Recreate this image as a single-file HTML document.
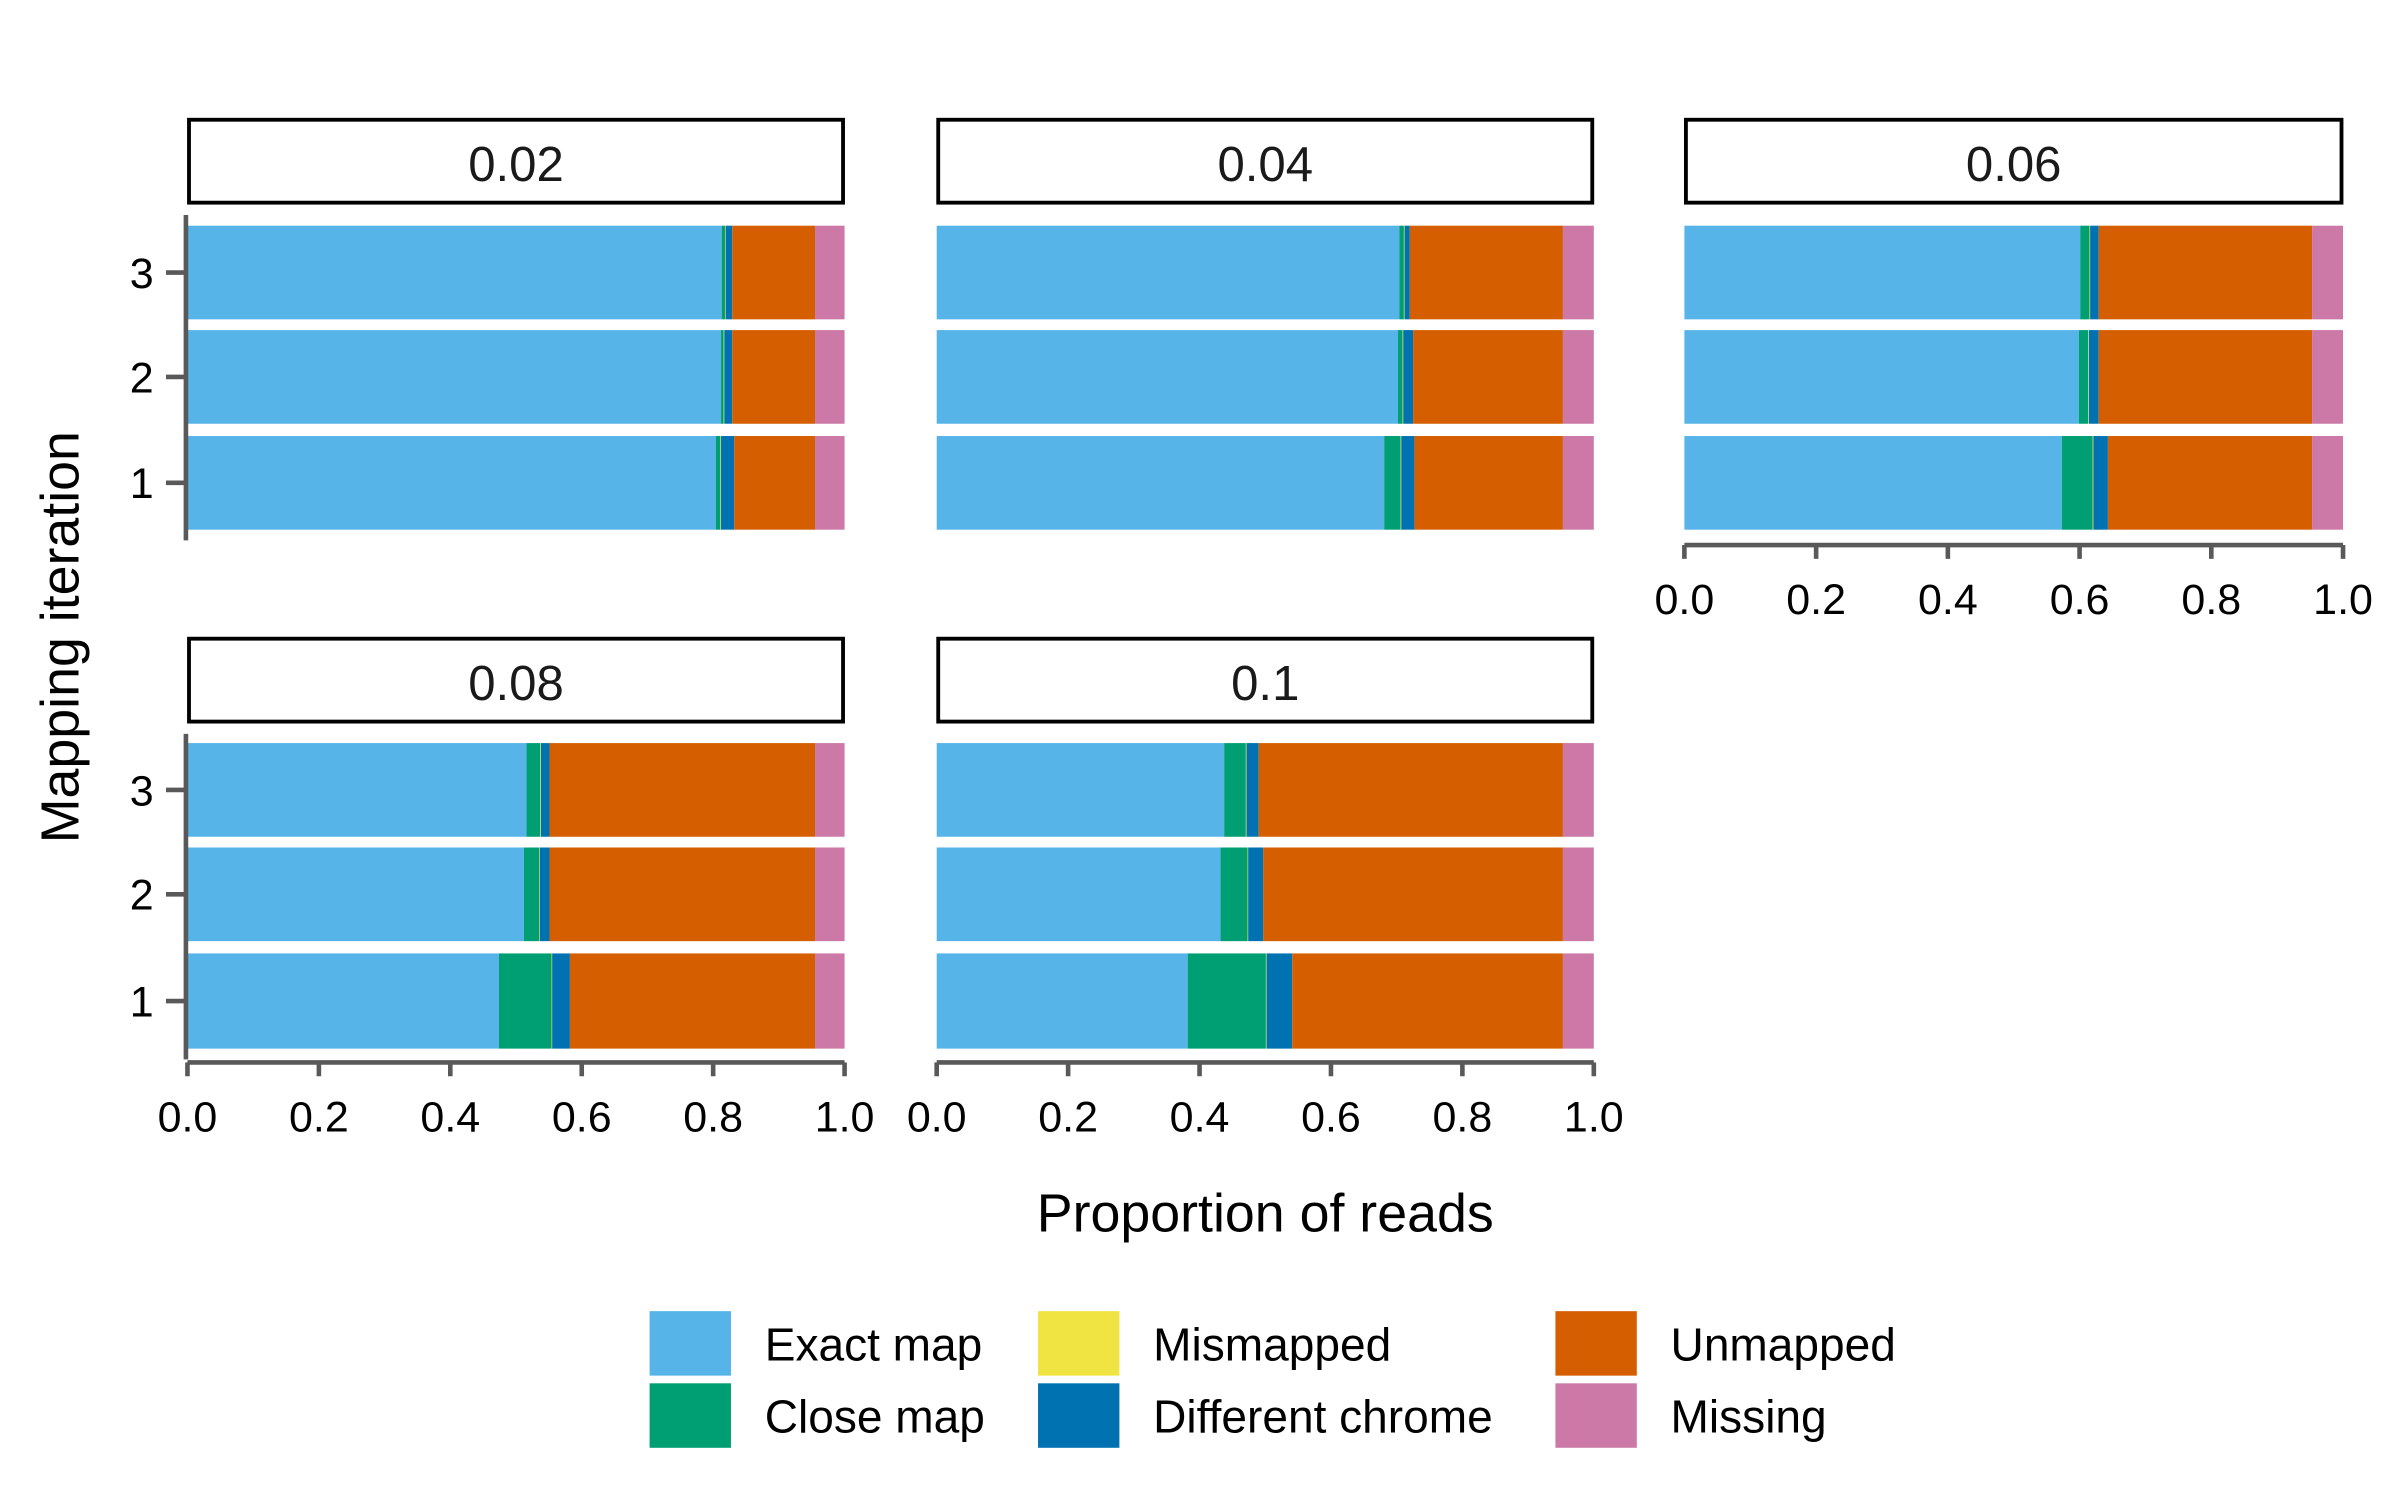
<!DOCTYPE html>
<html><head><meta charset="utf-8"><style>
html,body{margin:0;padding:0;background:#fff;}
svg{display:block;font-family:"Liberation Sans",Arial,sans-serif;}
</style></head><body>
<svg id="chart" width="2400" height="1500" viewBox="0 0 1563 977" xmlns="http://www.w3.org/2000/svg">
<text x="824" y="802" font-size="35" text-anchor="middle" fill="#000">Proportion of reads</text>
<text transform="translate(51,415) rotate(-90)" font-size="35" text-anchor="middle" fill="#000">Mapping iteration</text>
<g id="legend"></g>
</svg>
<script>
const panels = ["0.02","0.04","0.06","0.08","0.1"];
const iterations = ["1","2","3"];
const categories = ["Exact map","Close map","Mismapped","Different chrome","Unmapped","Missing"];
const colors = ["#56B4E9","#009E73","#F0E442","#0072B2","#D55E00","#CC79A7"];
const xTicks = [0,0.2,0.4,0.6,0.8,1.0];
const xTickLabels = ["0.0","0.2","0.4","0.6","0.8","1.0"];
// proportions per panel, per iteration (1,2,3): [exact, close, mismapped, diffchrome, unmapped, missing]
const p002 = [[0.804,0.007,0.001,0.020,0.123,0.045],[0.812,0.004,0.001,0.012,0.126,0.045],[0.813,0.005,0.001,0.010,0.126,0.045]];
const p004 = [[0.681,0.025,0.001,0.020,0.226,0.047],[0.702,0.007,0.001,0.015,0.228,0.047],[0.704,0.007,0.001,0.008,0.233,0.047]];
const p006 = [[0.573,0.047,0.001,0.022,0.310,0.047],[0.599,0.014,0.001,0.015,0.324,0.047],[0.601,0.014,0.001,0.013,0.324,0.047]];
const p008 = [[0.474,0.080,0.001,0.027,0.373,0.045],[0.512,0.023,0.001,0.015,0.404,0.045],[0.516,0.021,0.001,0.013,0.404,0.045]];
const p010 = [[0.382,0.119,0.001,0.039,0.412,0.047],[0.432,0.041,0.001,0.023,0.456,0.047],[0.4375,0.033,0.001,0.0185,0.463,0.047]];
const panelData = [p002,p004,p006,p008,p010];

const NS="http://www.w3.org/2000/svg";
const svg=document.getElementById('chart');
function mk(tag,attrs,parent){const e=document.createElementNS(NS,tag);for(const k in attrs)e.setAttribute(k,attrs[k]);(parent||svg).appendChild(e);return e;}
const colX=[[122,550],[610,1038],[1097,1526]];
const rowY=[{strip:77,top:140,bottom:352,bars:[[284,345],[215,276],[147,208]],axis:355},
            {strip:415,top:478,bottom:690,bars:[[621,683],[552,613],[484,545]],axis:692}];
const axisCol="#595959";
panels.forEach((pn,pi)=>{
  const c=pi%3, r=Math.floor(pi/3);
  const [x0,x1]=colX[c]; const R=rowY[r];
  const xs=v=>x0+v*(x1-x0);
  const g=mk('g',{});
  
  
  const st=mk('rect',{x:x0+1,y:R.strip+1,width:x1-x0-2,height:54,fill:'#fff',stroke:'#000','stroke-width':2.5},g);
  
  
  const stt=mk('text',{x:(x0+x1)/2,y:R.strip+41,'font-size':32,'text-anchor':'middle',fill:'#1a1a1a'},g);
  stt.textContent=pn;
  
  
  panelData[pi].forEach((vals,ii)=>{
    const [by0,by1]=R.bars[ii];
    let cum=0;
    vals.forEach((v,ci)=>{
      const rect=mk('rect',{x:xs(cum),y:by0,width:Math.max(0,xs(cum+v)-xs(cum)),height:by1-by0,fill:colors[ci]},g);
      
      
      cum+=v;
    });
  });
  if(c===0){
    const ya=mk('line',{x1:x0-1,x2:x0-1,y1:R.top,y2:R.bottom,stroke:axisCol,'stroke-width':3},g);
    
    
    iterations.forEach((it,ii)=>{
      const [by0,by1]=R.bars[ii]; const yc=(by0+by1)/2;
      mk('line',{x1:x0-14,x2:x0-1,y1:yc,y2:yc,stroke:axisCol,'stroke-width':3},g);
      const t=mk('text',{x:x0-22,y:yc+10,'font-size':28,'text-anchor':'end',fill:'#000'},g);
      t.textContent=it;
      
      
    });
  }
  const hasX = (r===1) || (c===2);
  if(hasX){
    const ay=R.axis;
    const xa=mk('line',{x1:x0,x2:x1,y1:ay,y2:ay,stroke:axisCol,'stroke-width':3},g);
    
    
    xTicks.forEach((tv,ti)=>{
      const tx=xs(tv);
      mk('line',{x1:tx,x2:tx,y1:ay,y2:ay+9,stroke:axisCol,'stroke-width':3},g);
      const t=mk('text',{x:tx,y:ay+45,'font-size':28,'text-anchor':'middle',fill:'#000'},g);
      t.textContent=xTickLabels[ti];
      
      
    });
  }
});
// legend
const lg=document.getElementById('legend');
const legPos=[[423,854],[423,901],[676,854],[676,901],[1013,854],[1013,901]];
categories.forEach((cat,ci)=>{
  const [lx,ly]=legPos[ci];
  const e=mk('g',{},lg);
  
  
  mk('rect',{x:lx,y:ly,width:53,height:42,fill:colors[ci]},e);
  const t=mk('text',{x:lx+75,y:ly+32,'font-size':30,fill:'#000'},e);
  t.textContent=cat;
});
</script>
</body></html>
